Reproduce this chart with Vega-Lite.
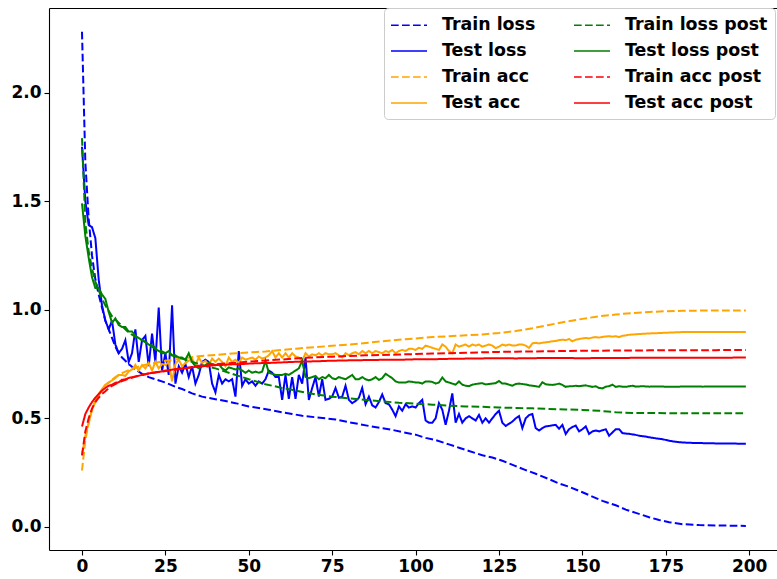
{
"$schema":"https://vega.github.io/schema/vega-lite/v6.json",
"width":728,"height":542,
"autosize":{"type":"none"},
"padding":{"left":49,"top":8,"right":0,"bottom":29},
"background":"white",
"data":{"values":[
{"s":"a","x":0,"y":2.28},{"s":"a","x":1,"y":1.68},{"s":"a","x":2,"y":1.42},{"s":"a","x":3,"y":1.25},{"s":"a","x":4,"y":1.14},{"s":"a","x":5,"y":1.07},{"s":"a","x":6,"y":1.01},{"s":"a","x":7,"y":0.95},{"s":"a","x":8,"y":0.91},{"s":"a","x":9,"y":0.87},{"s":"a","x":10,"y":0.83},{"s":"a","x":11,"y":0.8},{"s":"a","x":12,"y":0.78},{"s":"a","x":13,"y":0.765},{"s":"a","x":14,"y":0.75},{"s":"a","x":16,"y":0.725},{"s":"a","x":18,"y":0.705},{"s":"a","x":20,"y":0.69},{"s":"a","x":22,"y":0.68},{"s":"a","x":25,"y":0.665},{"s":"a","x":28,"y":0.645},{"s":"a","x":30,"y":0.635},{"s":"a","x":33,"y":0.615},{"s":"a","x":36,"y":0.6},{"s":"a","x":40,"y":0.588},{"s":"a","x":43,"y":0.58},{"s":"a","x":46,"y":0.57},{"s":"a","x":50,"y":0.555},{"s":"a","x":53,"y":0.548},{"s":"a","x":56,"y":0.54},{"s":"a","x":60,"y":0.528},{"s":"a","x":63,"y":0.52},{"s":"a","x":66,"y":0.512},{"s":"a","x":70,"y":0.505},{"s":"a","x":73,"y":0.5},{"s":"a","x":76,"y":0.495},{"s":"a","x":80,"y":0.482},{"s":"a","x":83,"y":0.474},{"s":"a","x":86,"y":0.465},{"s":"a","x":90,"y":0.455},{"s":"a","x":93,"y":0.447},{"s":"a","x":96,"y":0.437},{"s":"a","x":100,"y":0.425},{"s":"a","x":103,"y":0.41},{"s":"a","x":106,"y":0.4},{"s":"a","x":110,"y":0.38},{"s":"a","x":113,"y":0.365},{"s":"a","x":116,"y":0.35},{"s":"a","x":120,"y":0.33},{"s":"a","x":123,"y":0.32},{"s":"a","x":126,"y":0.305},{"s":"a","x":130,"y":0.28},{"s":"a","x":133,"y":0.262},{"s":"a","x":136,"y":0.245},{"s":"a","x":140,"y":0.22},{"s":"a","x":143,"y":0.2},{"s":"a","x":146,"y":0.185},{"s":"a","x":150,"y":0.16},{"s":"a","x":153,"y":0.14},{"s":"a","x":156,"y":0.12},{"s":"a","x":160,"y":0.1},{"s":"a","x":163,"y":0.08},{"s":"a","x":166,"y":0.065},{"s":"a","x":170,"y":0.045},{"s":"a","x":173,"y":0.032},{"s":"a","x":176,"y":0.022},{"s":"a","x":180,"y":0.013},{"s":"a","x":185,"y":0.009},{"s":"a","x":190,"y":0.007},{"s":"a","x":195,"y":0.006},{"s":"a","x":199,"y":0.005},
{"s":"b","x":0,"y":1.75},{"s":"b","x":1,"y":1.5},{"s":"b","x":2,"y":1.39},{"s":"b","x":3,"y":1.38},{"s":"b","x":4,"y":1.33},{"s":"b","x":5,"y":1.14},{"s":"b","x":6,"y":1.02},{"s":"b","x":7,"y":0.95},{"s":"b","x":8,"y":0.91},{"s":"b","x":9,"y":0.95},{"s":"b","x":10,"y":0.84},{"s":"b","x":11,"y":0.8},{"s":"b","x":12,"y":0.82},{"s":"b","x":13,"y":0.86},{"s":"b","x":14,"y":0.76},{"s":"b","x":15,"y":0.8},{"s":"b","x":16,"y":0.91},{"s":"b","x":17,"y":0.76},{"s":"b","x":18,"y":0.86},{"s":"b","x":19,"y":0.88},{"s":"b","x":20,"y":0.74},{"s":"b","x":21,"y":0.89},{"s":"b","x":22,"y":0.76},{"s":"b","x":23,"y":1.01},{"s":"b","x":24,"y":0.72},{"s":"b","x":25,"y":0.8},{"s":"b","x":26,"y":0.7},{"s":"b","x":27,"y":1.02},{"s":"b","x":28,"y":0.66},{"s":"b","x":29,"y":0.74},{"s":"b","x":30,"y":0.71},{"s":"b","x":31,"y":0.75},{"s":"b","x":32,"y":0.69},{"s":"b","x":33,"y":0.74},{"s":"b","x":34,"y":0.66},{"s":"b","x":35,"y":0.7},{"s":"b","x":36,"y":0.76},{"s":"b","x":37,"y":0.77},{"s":"b","x":38,"y":0.76},{"s":"b","x":39,"y":0.66},{"s":"b","x":40,"y":0.62},{"s":"b","x":41,"y":0.7},{"s":"b","x":42,"y":0.66},{"s":"b","x":43,"y":0.68},{"s":"b","x":44,"y":0.67},{"s":"b","x":45,"y":0.68},{"s":"b","x":46,"y":0.6},{"s":"b","x":47,"y":0.81},{"s":"b","x":48,"y":0.65},{"s":"b","x":49,"y":0.68},{"s":"b","x":50,"y":0.66},{"s":"b","x":51,"y":0.67},{"s":"b","x":52,"y":0.65},{"s":"b","x":53,"y":0.67},{"s":"b","x":54,"y":0.66},{"s":"b","x":55,"y":0.68},{"s":"b","x":56,"y":0.72},{"s":"b","x":57,"y":0.71},{"s":"b","x":58,"y":0.69},{"s":"b","x":59,"y":0.69},{"s":"b","x":60,"y":0.585},{"s":"b","x":61,"y":0.7},{"s":"b","x":62,"y":0.59},{"s":"b","x":63,"y":0.69},{"s":"b","x":64,"y":0.59},{"s":"b","x":65,"y":0.7},{"s":"b","x":66,"y":0.66},{"s":"b","x":67,"y":0.78},{"s":"b","x":68,"y":0.585},{"s":"b","x":69,"y":0.64},{"s":"b","x":70,"y":0.69},{"s":"b","x":71,"y":0.6},{"s":"b","x":72,"y":0.68},{"s":"b","x":73,"y":0.585},{"s":"b","x":74,"y":0.59},{"s":"b","x":75,"y":0.6},{"s":"b","x":76,"y":0.64},{"s":"b","x":77,"y":0.595},{"s":"b","x":78,"y":0.6},{"s":"b","x":79,"y":0.65},{"s":"b","x":80,"y":0.585},{"s":"b","x":81,"y":0.57},{"s":"b","x":82,"y":0.58},{"s":"b","x":83,"y":0.595},{"s":"b","x":84,"y":0.64},{"s":"b","x":85,"y":0.565},{"s":"b","x":86,"y":0.6},{"s":"b","x":87,"y":0.56},{"s":"b","x":88,"y":0.55},{"s":"b","x":89,"y":0.575},{"s":"b","x":90,"y":0.61},{"s":"b","x":91,"y":0.57},{"s":"b","x":92,"y":0.565},{"s":"b","x":93,"y":0.54},{"s":"b","x":94,"y":0.51},{"s":"b","x":95,"y":0.555},{"s":"b","x":96,"y":0.535},{"s":"b","x":97,"y":0.565},{"s":"b","x":98,"y":0.55},{"s":"b","x":99,"y":0.555},{"s":"b","x":100,"y":0.55},{"s":"b","x":101,"y":0.57},{"s":"b","x":102,"y":0.585},{"s":"b","x":103,"y":0.49},{"s":"b","x":104,"y":0.48},{"s":"b","x":105,"y":0.48},{"s":"b","x":106,"y":0.5},{"s":"b","x":107,"y":0.57},{"s":"b","x":108,"y":0.54},{"s":"b","x":109,"y":0.47},{"s":"b","x":110,"y":0.535},{"s":"b","x":111,"y":0.615},{"s":"b","x":112,"y":0.48},{"s":"b","x":113,"y":0.52},{"s":"b","x":114,"y":0.48},{"s":"b","x":115,"y":0.5},{"s":"b","x":116,"y":0.51},{"s":"b","x":117,"y":0.5},{"s":"b","x":118,"y":0.49},{"s":"b","x":119,"y":0.516},{"s":"b","x":120,"y":0.48},{"s":"b","x":121,"y":0.5},{"s":"b","x":122,"y":0.48},{"s":"b","x":123,"y":0.5},{"s":"b","x":124,"y":0.52},{"s":"b","x":125,"y":0.535},{"s":"b","x":126,"y":0.48},{"s":"b","x":127,"y":0.465},{"s":"b","x":128,"y":0.475},{"s":"b","x":129,"y":0.485},{"s":"b","x":130,"y":0.5},{"s":"b","x":131,"y":0.51},{"s":"b","x":132,"y":0.455},{"s":"b","x":133,"y":0.5},{"s":"b","x":134,"y":0.515},{"s":"b","x":135,"y":0.52},{"s":"b","x":136,"y":0.455},{"s":"b","x":137,"y":0.444},{"s":"b","x":138,"y":0.455},{"s":"b","x":139,"y":0.463},{"s":"b","x":140,"y":0.465},{"s":"b","x":141,"y":0.468},{"s":"b","x":142,"y":0.47},{"s":"b","x":143,"y":0.452},{"s":"b","x":144,"y":0.47},{"s":"b","x":145,"y":0.428},{"s":"b","x":146,"y":0.45},{"s":"b","x":147,"y":0.46},{"s":"b","x":148,"y":0.467},{"s":"b","x":149,"y":0.44},{"s":"b","x":150,"y":0.45},{"s":"b","x":151,"y":0.463},{"s":"b","x":152,"y":0.428},{"s":"b","x":153,"y":0.44},{"s":"b","x":154,"y":0.444},{"s":"b","x":155,"y":0.44},{"s":"b","x":156,"y":0.445},{"s":"b","x":157,"y":0.45},{"s":"b","x":158,"y":0.42},{"s":"b","x":159,"y":0.435},{"s":"b","x":160,"y":0.45},{"s":"b","x":161,"y":0.45},{"s":"b","x":162,"y":0.432},{"s":"b","x":163,"y":0.43},{"s":"b","x":164,"y":0.429},{"s":"b","x":165,"y":0.426},{"s":"b","x":166,"y":0.424},{"s":"b","x":167,"y":0.42},{"s":"b","x":168,"y":0.418},{"s":"b","x":169,"y":0.416},{"s":"b","x":170,"y":0.413},{"s":"b","x":172,"y":0.408},{"s":"b","x":174,"y":0.404},{"s":"b","x":176,"y":0.397},{"s":"b","x":178,"y":0.392},{"s":"b","x":180,"y":0.389},{"s":"b","x":183,"y":0.387},{"s":"b","x":186,"y":0.386},{"s":"b","x":189,"y":0.385},{"s":"b","x":192,"y":0.384},{"s":"b","x":195,"y":0.384},{"s":"b","x":199,"y":0.383},
{"s":"c","x":0,"y":0.26},{"s":"c","x":1,"y":0.4},{"s":"c","x":2,"y":0.48},{"s":"c","x":3,"y":0.54},{"s":"c","x":4,"y":0.575},{"s":"c","x":5,"y":0.605},{"s":"c","x":6,"y":0.63},{"s":"c","x":7,"y":0.652},{"s":"c","x":8,"y":0.665},{"s":"c","x":9,"y":0.678},{"s":"c","x":10,"y":0.69},{"s":"c","x":12,"y":0.708},{"s":"c","x":14,"y":0.722},{"s":"c","x":16,"y":0.733},{"s":"c","x":18,"y":0.743},{"s":"c","x":20,"y":0.75},{"s":"c","x":25,"y":0.765},{"s":"c","x":30,"y":0.776},{"s":"c","x":35,"y":0.786},{"s":"c","x":40,"y":0.792},{"s":"c","x":45,"y":0.798},{"s":"c","x":50,"y":0.803},{"s":"c","x":55,"y":0.808},{"s":"c","x":60,"y":0.815},{"s":"c","x":65,"y":0.822},{"s":"c","x":70,"y":0.828},{"s":"c","x":75,"y":0.834},{"s":"c","x":80,"y":0.84},{"s":"c","x":85,"y":0.847},{"s":"c","x":90,"y":0.855},{"s":"c","x":95,"y":0.862},{"s":"c","x":100,"y":0.868},{"s":"c","x":105,"y":0.874},{"s":"c","x":110,"y":0.878},{"s":"c","x":115,"y":0.882},{"s":"c","x":120,"y":0.886},{"s":"c","x":125,"y":0.893},{"s":"c","x":130,"y":0.902},{"s":"c","x":135,"y":0.915},{"s":"c","x":140,"y":0.93},{"s":"c","x":145,"y":0.945},{"s":"c","x":150,"y":0.958},{"s":"c","x":155,"y":0.97},{"s":"c","x":160,"y":0.978},{"s":"c","x":165,"y":0.985},{"s":"c","x":170,"y":0.99},{"s":"c","x":175,"y":0.993},{"s":"c","x":180,"y":0.995},{"s":"c","x":185,"y":0.996},{"s":"c","x":190,"y":0.997},{"s":"c","x":195,"y":0.997},{"s":"c","x":199,"y":0.997},
{"s":"d","x":0,"y":0.33},{"s":"d","x":1,"y":0.42},{"s":"d","x":2,"y":0.48},{"s":"d","x":3,"y":0.54},{"s":"d","x":4,"y":0.58},{"s":"d","x":5,"y":0.61},{"s":"d","x":6,"y":0.635},{"s":"d","x":7,"y":0.655},{"s":"d","x":8,"y":0.665},{"s":"d","x":9,"y":0.675},{"s":"d","x":10,"y":0.685},{"s":"d","x":11,"y":0.7},{"s":"d","x":12,"y":0.7},{"s":"d","x":13,"y":0.695},{"s":"d","x":14,"y":0.716},{"s":"d","x":15,"y":0.725},{"s":"d","x":16,"y":0.746},{"s":"d","x":17,"y":0.72},{"s":"d","x":18,"y":0.745},{"s":"d","x":19,"y":0.73},{"s":"d","x":20,"y":0.755},{"s":"d","x":21,"y":0.72},{"s":"d","x":22,"y":0.76},{"s":"d","x":23,"y":0.73},{"s":"d","x":24,"y":0.75},{"s":"d","x":25,"y":0.745},{"s":"d","x":26,"y":0.76},{"s":"d","x":27,"y":0.67},{"s":"d","x":28,"y":0.75},{"s":"d","x":29,"y":0.77},{"s":"d","x":30,"y":0.74},{"s":"d","x":31,"y":0.755},{"s":"d","x":32,"y":0.765},{"s":"d","x":33,"y":0.775},{"s":"d","x":34,"y":0.745},{"s":"d","x":35,"y":0.78},{"s":"d","x":36,"y":0.755},{"s":"d","x":37,"y":0.765},{"s":"d","x":38,"y":0.745},{"s":"d","x":39,"y":0.775},{"s":"d","x":40,"y":0.76},{"s":"d","x":41,"y":0.775},{"s":"d","x":42,"y":0.76},{"s":"d","x":43,"y":0.74},{"s":"d","x":44,"y":0.78},{"s":"d","x":45,"y":0.76},{"s":"d","x":46,"y":0.77},{"s":"d","x":47,"y":0.755},{"s":"d","x":48,"y":0.78},{"s":"d","x":49,"y":0.77},{"s":"d","x":50,"y":0.775},{"s":"d","x":51,"y":0.78},{"s":"d","x":52,"y":0.77},{"s":"d","x":53,"y":0.785},{"s":"d","x":54,"y":0.775},{"s":"d","x":55,"y":0.78},{"s":"d","x":56,"y":0.79},{"s":"d","x":57,"y":0.81},{"s":"d","x":58,"y":0.78},{"s":"d","x":59,"y":0.8},{"s":"d","x":60,"y":0.78},{"s":"d","x":61,"y":0.8},{"s":"d","x":62,"y":0.78},{"s":"d","x":63,"y":0.8},{"s":"d","x":64,"y":0.785},{"s":"d","x":65,"y":0.78},{"s":"d","x":66,"y":0.765},{"s":"d","x":67,"y":0.8},{"s":"d","x":68,"y":0.785},{"s":"d","x":69,"y":0.795},{"s":"d","x":70,"y":0.79},{"s":"d","x":71,"y":0.8},{"s":"d","x":72,"y":0.79},{"s":"d","x":73,"y":0.8},{"s":"d","x":74,"y":0.795},{"s":"d","x":75,"y":0.795},{"s":"d","x":76,"y":0.8},{"s":"d","x":77,"y":0.79},{"s":"d","x":78,"y":0.78},{"s":"d","x":79,"y":0.8},{"s":"d","x":80,"y":0.79},{"s":"d","x":81,"y":0.8},{"s":"d","x":82,"y":0.805},{"s":"d","x":83,"y":0.795},{"s":"d","x":84,"y":0.81},{"s":"d","x":85,"y":0.8},{"s":"d","x":86,"y":0.81},{"s":"d","x":87,"y":0.8},{"s":"d","x":88,"y":0.81},{"s":"d","x":89,"y":0.805},{"s":"d","x":90,"y":0.8},{"s":"d","x":91,"y":0.81},{"s":"d","x":92,"y":0.805},{"s":"d","x":93,"y":0.815},{"s":"d","x":94,"y":0.8},{"s":"d","x":95,"y":0.81},{"s":"d","x":96,"y":0.815},{"s":"d","x":97,"y":0.81},{"s":"d","x":98,"y":0.82},{"s":"d","x":99,"y":0.82},{"s":"d","x":100,"y":0.815},{"s":"d","x":101,"y":0.825},{"s":"d","x":102,"y":0.82},{"s":"d","x":103,"y":0.835},{"s":"d","x":104,"y":0.83},{"s":"d","x":105,"y":0.825},{"s":"d","x":106,"y":0.82},{"s":"d","x":107,"y":0.815},{"s":"d","x":108,"y":0.84},{"s":"d","x":109,"y":0.83},{"s":"d","x":110,"y":0.81},{"s":"d","x":111,"y":0.8},{"s":"d","x":112,"y":0.84},{"s":"d","x":113,"y":0.83},{"s":"d","x":114,"y":0.835},{"s":"d","x":115,"y":0.84},{"s":"d","x":116,"y":0.83},{"s":"d","x":117,"y":0.84},{"s":"d","x":118,"y":0.835},{"s":"d","x":119,"y":0.84},{"s":"d","x":120,"y":0.83},{"s":"d","x":121,"y":0.835},{"s":"d","x":122,"y":0.84},{"s":"d","x":123,"y":0.835},{"s":"d","x":124,"y":0.823},{"s":"d","x":125,"y":0.83},{"s":"d","x":126,"y":0.84},{"s":"d","x":127,"y":0.835},{"s":"d","x":128,"y":0.84},{"s":"d","x":129,"y":0.835},{"s":"d","x":130,"y":0.835},{"s":"d","x":131,"y":0.84},{"s":"d","x":132,"y":0.84},{"s":"d","x":133,"y":0.835},{"s":"d","x":134,"y":0.824},{"s":"d","x":135,"y":0.845},{"s":"d","x":136,"y":0.848},{"s":"d","x":137,"y":0.845},{"s":"d","x":138,"y":0.848},{"s":"d","x":139,"y":0.85},{"s":"d","x":140,"y":0.852},{"s":"d","x":141,"y":0.855},{"s":"d","x":142,"y":0.856},{"s":"d","x":143,"y":0.86},{"s":"d","x":144,"y":0.862},{"s":"d","x":145,"y":0.86},{"s":"d","x":146,"y":0.865},{"s":"d","x":147,"y":0.855},{"s":"d","x":148,"y":0.862},{"s":"d","x":149,"y":0.865},{"s":"d","x":150,"y":0.868},{"s":"d","x":151,"y":0.87},{"s":"d","x":152,"y":0.868},{"s":"d","x":153,"y":0.872},{"s":"d","x":154,"y":0.874},{"s":"d","x":155,"y":0.872},{"s":"d","x":156,"y":0.875},{"s":"d","x":157,"y":0.877},{"s":"d","x":158,"y":0.878},{"s":"d","x":159,"y":0.876},{"s":"d","x":160,"y":0.878},{"s":"d","x":161,"y":0.874},{"s":"d","x":162,"y":0.88},{"s":"d","x":163,"y":0.882},{"s":"d","x":164,"y":0.885},{"s":"d","x":165,"y":0.886},{"s":"d","x":166,"y":0.887},{"s":"d","x":167,"y":0.888},{"s":"d","x":168,"y":0.889},{"s":"d","x":170,"y":0.891},{"s":"d","x":172,"y":0.892},{"s":"d","x":175,"y":0.894},{"s":"d","x":178,"y":0.896},{"s":"d","x":181,"y":0.898},{"s":"d","x":185,"y":0.897},{"s":"d","x":190,"y":0.897},{"s":"d","x":195,"y":0.898},{"s":"d","x":199,"y":0.897},
{"s":"e","x":0,"y":1.79},{"s":"e","x":1,"y":1.4},{"s":"e","x":2,"y":1.27},{"s":"e","x":3,"y":1.19},{"s":"e","x":4,"y":1.13},{"s":"e","x":5,"y":1.09},{"s":"e","x":6,"y":1.05},{"s":"e","x":7,"y":1.02},{"s":"e","x":8,"y":0.995},{"s":"e","x":9,"y":0.97},{"s":"e","x":10,"y":0.955},{"s":"e","x":12,"y":0.925},{"s":"e","x":14,"y":0.895},{"s":"e","x":16,"y":0.875},{"s":"e","x":18,"y":0.86},{"s":"e","x":20,"y":0.845},{"s":"e","x":22,"y":0.825},{"s":"e","x":25,"y":0.8},{"s":"e","x":28,"y":0.785},{"s":"e","x":30,"y":0.775},{"s":"e","x":33,"y":0.76},{"s":"e","x":36,"y":0.745},{"s":"e","x":40,"y":0.73},{"s":"e","x":45,"y":0.705},{"s":"e","x":50,"y":0.68},{"s":"e","x":55,"y":0.657},{"s":"e","x":60,"y":0.64},{"s":"e","x":65,"y":0.625},{"s":"e","x":70,"y":0.61},{"s":"e","x":75,"y":0.6},{"s":"e","x":80,"y":0.592},{"s":"e","x":85,"y":0.585},{"s":"e","x":90,"y":0.578},{"s":"e","x":95,"y":0.572},{"s":"e","x":100,"y":0.568},{"s":"e","x":105,"y":0.563},{"s":"e","x":110,"y":0.558},{"s":"e","x":115,"y":0.555},{"s":"e","x":120,"y":0.553},{"s":"e","x":125,"y":0.55},{"s":"e","x":130,"y":0.548},{"s":"e","x":135,"y":0.546},{"s":"e","x":140,"y":0.543},{"s":"e","x":145,"y":0.541},{"s":"e","x":150,"y":0.539},{"s":"e","x":155,"y":0.535},{"s":"e","x":160,"y":0.528},{"s":"e","x":165,"y":0.525},{"s":"e","x":170,"y":0.525},{"s":"e","x":175,"y":0.524},{"s":"e","x":180,"y":0.523},{"s":"e","x":185,"y":0.524},{"s":"e","x":190,"y":0.523},{"s":"e","x":195,"y":0.524},{"s":"e","x":199,"y":0.524},
{"s":"f","x":0,"y":1.49},{"s":"f","x":1,"y":1.34},{"s":"f","x":2,"y":1.24},{"s":"f","x":3,"y":1.15},{"s":"f","x":4,"y":1.1},{"s":"f","x":5,"y":1.1},{"s":"f","x":6,"y":1.07},{"s":"f","x":7,"y":1.05},{"s":"f","x":8,"y":0.99},{"s":"f","x":9,"y":0.94},{"s":"f","x":10,"y":0.96},{"s":"f","x":11,"y":0.93},{"s":"f","x":12,"y":0.92},{"s":"f","x":13,"y":0.92},{"s":"f","x":14,"y":0.9},{"s":"f","x":15,"y":0.9},{"s":"f","x":16,"y":0.88},{"s":"f","x":17,"y":0.87},{"s":"f","x":18,"y":0.86},{"s":"f","x":19,"y":0.85},{"s":"f","x":20,"y":0.84},{"s":"f","x":21,"y":0.83},{"s":"f","x":22,"y":0.82},{"s":"f","x":23,"y":0.81},{"s":"f","x":24,"y":0.8},{"s":"f","x":25,"y":0.8},{"s":"f","x":26,"y":0.81},{"s":"f","x":27,"y":0.79},{"s":"f","x":28,"y":0.79},{"s":"f","x":29,"y":0.78},{"s":"f","x":30,"y":0.78},{"s":"f","x":31,"y":0.77},{"s":"f","x":32,"y":0.8},{"s":"f","x":33,"y":0.76},{"s":"f","x":34,"y":0.74},{"s":"f","x":35,"y":0.73},{"s":"f","x":36,"y":0.74},{"s":"f","x":37,"y":0.745},{"s":"f","x":38,"y":0.755},{"s":"f","x":39,"y":0.75},{"s":"f","x":40,"y":0.745},{"s":"f","x":41,"y":0.75},{"s":"f","x":42,"y":0.73},{"s":"f","x":43,"y":0.72},{"s":"f","x":44,"y":0.735},{"s":"f","x":45,"y":0.73},{"s":"f","x":46,"y":0.725},{"s":"f","x":47,"y":0.73},{"s":"f","x":48,"y":0.72},{"s":"f","x":49,"y":0.71},{"s":"f","x":50,"y":0.72},{"s":"f","x":51,"y":0.71},{"s":"f","x":52,"y":0.715},{"s":"f","x":53,"y":0.71},{"s":"f","x":54,"y":0.715},{"s":"f","x":55,"y":0.765},{"s":"f","x":56,"y":0.71},{"s":"f","x":57,"y":0.705},{"s":"f","x":58,"y":0.7},{"s":"f","x":59,"y":0.7},{"s":"f","x":60,"y":0.7},{"s":"f","x":61,"y":0.705},{"s":"f","x":62,"y":0.7},{"s":"f","x":63,"y":0.71},{"s":"f","x":64,"y":0.72},{"s":"f","x":65,"y":0.73},{"s":"f","x":66,"y":0.765},{"s":"f","x":67,"y":0.69},{"s":"f","x":68,"y":0.685},{"s":"f","x":69,"y":0.69},{"s":"f","x":70,"y":0.695},{"s":"f","x":71,"y":0.68},{"s":"f","x":72,"y":0.69},{"s":"f","x":73,"y":0.685},{"s":"f","x":74,"y":0.7},{"s":"f","x":75,"y":0.685},{"s":"f","x":76,"y":0.68},{"s":"f","x":77,"y":0.69},{"s":"f","x":78,"y":0.685},{"s":"f","x":79,"y":0.68},{"s":"f","x":80,"y":0.69},{"s":"f","x":81,"y":0.7},{"s":"f","x":82,"y":0.68},{"s":"f","x":83,"y":0.68},{"s":"f","x":84,"y":0.69},{"s":"f","x":85,"y":0.68},{"s":"f","x":86,"y":0.675},{"s":"f","x":87,"y":0.68},{"s":"f","x":88,"y":0.69},{"s":"f","x":89,"y":0.677},{"s":"f","x":90,"y":0.685},{"s":"f","x":91,"y":0.705},{"s":"f","x":92,"y":0.695},{"s":"f","x":93,"y":0.685},{"s":"f","x":94,"y":0.67},{"s":"f","x":95,"y":0.665},{"s":"f","x":96,"y":0.665},{"s":"f","x":97,"y":0.665},{"s":"f","x":98,"y":0.67},{"s":"f","x":99,"y":0.668},{"s":"f","x":100,"y":0.665},{"s":"f","x":101,"y":0.665},{"s":"f","x":102,"y":0.66},{"s":"f","x":103,"y":0.67},{"s":"f","x":104,"y":0.67},{"s":"f","x":105,"y":0.668},{"s":"f","x":106,"y":0.66},{"s":"f","x":107,"y":0.665},{"s":"f","x":108,"y":0.688},{"s":"f","x":109,"y":0.67},{"s":"f","x":110,"y":0.665},{"s":"f","x":111,"y":0.66},{"s":"f","x":112,"y":0.655},{"s":"f","x":113,"y":0.67},{"s":"f","x":114,"y":0.655},{"s":"f","x":115,"y":0.65},{"s":"f","x":116,"y":0.648},{"s":"f","x":117,"y":0.655},{"s":"f","x":118,"y":0.658},{"s":"f","x":119,"y":0.66},{"s":"f","x":120,"y":0.662},{"s":"f","x":121,"y":0.656},{"s":"f","x":122,"y":0.658},{"s":"f","x":123,"y":0.66},{"s":"f","x":124,"y":0.662},{"s":"f","x":125,"y":0.672},{"s":"f","x":126,"y":0.66},{"s":"f","x":127,"y":0.66},{"s":"f","x":128,"y":0.655},{"s":"f","x":129,"y":0.65},{"s":"f","x":130,"y":0.658},{"s":"f","x":131,"y":0.66},{"s":"f","x":132,"y":0.658},{"s":"f","x":133,"y":0.656},{"s":"f","x":134,"y":0.652},{"s":"f","x":135,"y":0.65},{"s":"f","x":136,"y":0.648},{"s":"f","x":137,"y":0.645},{"s":"f","x":138,"y":0.666},{"s":"f","x":139,"y":0.657},{"s":"f","x":140,"y":0.655},{"s":"f","x":141,"y":0.654},{"s":"f","x":142,"y":0.656},{"s":"f","x":143,"y":0.66},{"s":"f","x":144,"y":0.654},{"s":"f","x":145,"y":0.645},{"s":"f","x":146,"y":0.648},{"s":"f","x":147,"y":0.648},{"s":"f","x":148,"y":0.65},{"s":"f","x":149,"y":0.648},{"s":"f","x":150,"y":0.65},{"s":"f","x":151,"y":0.652},{"s":"f","x":152,"y":0.648},{"s":"f","x":153,"y":0.645},{"s":"f","x":154,"y":0.648},{"s":"f","x":155,"y":0.64},{"s":"f","x":156,"y":0.638},{"s":"f","x":157,"y":0.646},{"s":"f","x":158,"y":0.648},{"s":"f","x":159,"y":0.655},{"s":"f","x":160,"y":0.645},{"s":"f","x":161,"y":0.648},{"s":"f","x":162,"y":0.646},{"s":"f","x":163,"y":0.645},{"s":"f","x":164,"y":0.648},{"s":"f","x":165,"y":0.65},{"s":"f","x":166,"y":0.646},{"s":"f","x":168,"y":0.648},{"s":"f","x":170,"y":0.646},{"s":"f","x":173,"y":0.647},{"s":"f","x":176,"y":0.645},{"s":"f","x":179,"y":0.646},{"s":"f","x":182,"y":0.647},{"s":"f","x":186,"y":0.646},{"s":"f","x":190,"y":0.647},{"s":"f","x":195,"y":0.647},{"s":"f","x":199,"y":0.647},
{"s":"g","x":0,"y":0.33},{"s":"g","x":1,"y":0.44},{"s":"g","x":2,"y":0.5},{"s":"g","x":3,"y":0.545},{"s":"g","x":4,"y":0.575},{"s":"g","x":5,"y":0.595},{"s":"g","x":6,"y":0.612},{"s":"g","x":7,"y":0.625},{"s":"g","x":8,"y":0.638},{"s":"g","x":9,"y":0.65},{"s":"g","x":10,"y":0.658},{"s":"g","x":12,"y":0.672},{"s":"g","x":14,"y":0.683},{"s":"g","x":16,"y":0.692},{"s":"g","x":18,"y":0.7},{"s":"g","x":20,"y":0.706},{"s":"g","x":23,"y":0.713},{"s":"g","x":26,"y":0.72},{"s":"g","x":30,"y":0.728},{"s":"g","x":35,"y":0.742},{"s":"g","x":40,"y":0.749},{"s":"g","x":45,"y":0.755},{"s":"g","x":50,"y":0.761},{"s":"g","x":55,"y":0.766},{"s":"g","x":60,"y":0.771},{"s":"g","x":65,"y":0.777},{"s":"g","x":70,"y":0.781},{"s":"g","x":75,"y":0.784},{"s":"g","x":80,"y":0.787},{"s":"g","x":85,"y":0.79},{"s":"g","x":90,"y":0.792},{"s":"g","x":95,"y":0.794},{"s":"g","x":100,"y":0.796},{"s":"g","x":105,"y":0.798},{"s":"g","x":110,"y":0.8},{"s":"g","x":115,"y":0.802},{"s":"g","x":120,"y":0.804},{"s":"g","x":125,"y":0.806},{"s":"g","x":130,"y":0.807},{"s":"g","x":135,"y":0.808},{"s":"g","x":140,"y":0.809},{"s":"g","x":145,"y":0.81},{"s":"g","x":150,"y":0.811},{"s":"g","x":160,"y":0.812},{"s":"g","x":170,"y":0.813},{"s":"g","x":180,"y":0.814},{"s":"g","x":190,"y":0.814},{"s":"g","x":199,"y":0.815},
{"s":"h","x":0,"y":0.462},{"s":"h","x":1,"y":0.52},{"s":"h","x":2,"y":0.55},{"s":"h","x":3,"y":0.575},{"s":"h","x":4,"y":0.595},{"s":"h","x":5,"y":0.612},{"s":"h","x":6,"y":0.628},{"s":"h","x":7,"y":0.64},{"s":"h","x":8,"y":0.65},{"s":"h","x":9,"y":0.655},{"s":"h","x":10,"y":0.664},{"s":"h","x":11,"y":0.666},{"s":"h","x":12,"y":0.678},{"s":"h","x":13,"y":0.679},{"s":"h","x":14,"y":0.686},{"s":"h","x":15,"y":0.689},{"s":"h","x":16,"y":0.693},{"s":"h","x":17,"y":0.696},{"s":"h","x":18,"y":0.7},{"s":"h","x":19,"y":0.703},{"s":"h","x":20,"y":0.707},{"s":"h","x":21,"y":0.709},{"s":"h","x":22,"y":0.712},{"s":"h","x":23,"y":0.714},{"s":"h","x":24,"y":0.716},{"s":"h","x":25,"y":0.72},{"s":"h","x":26,"y":0.722},{"s":"h","x":27,"y":0.724},{"s":"h","x":28,"y":0.727},{"s":"h","x":29,"y":0.728},{"s":"h","x":30,"y":0.73},{"s":"h","x":32,"y":0.733},{"s":"h","x":34,"y":0.737},{"s":"h","x":36,"y":0.74},{"s":"h","x":38,"y":0.742},{"s":"h","x":40,"y":0.745},{"s":"h","x":42,"y":0.746},{"s":"h","x":44,"y":0.748},{"s":"h","x":46,"y":0.749},{"s":"h","x":48,"y":0.75},{"s":"h","x":50,"y":0.752},{"s":"h","x":53,"y":0.754},{"s":"h","x":56,"y":0.755},{"s":"h","x":59,"y":0.757},{"s":"h","x":62,"y":0.759},{"s":"h","x":65,"y":0.761},{"s":"h","x":68,"y":0.762},{"s":"h","x":71,"y":0.763},{"s":"h","x":74,"y":0.765},{"s":"h","x":77,"y":0.766},{"s":"h","x":80,"y":0.767},{"s":"h","x":84,"y":0.768},{"s":"h","x":88,"y":0.769},{"s":"h","x":92,"y":0.77},{"s":"h","x":96,"y":0.77},{"s":"h","x":100,"y":0.772},{"s":"h","x":105,"y":0.772},{"s":"h","x":110,"y":0.774},{"s":"h","x":115,"y":0.775},{"s":"h","x":120,"y":0.776},{"s":"h","x":125,"y":0.777},{"s":"h","x":130,"y":0.776},{"s":"h","x":135,"y":0.777},{"s":"h","x":140,"y":0.778},{"s":"h","x":150,"y":0.777},{"s":"h","x":160,"y":0.778},{"s":"h","x":170,"y":0.779},{"s":"h","x":180,"y":0.779},{"s":"h","x":190,"y":0.779},{"s":"h","x":199,"y":0.78}
]},
"layer":[
{"mark":{"type":"line","strokeWidth":2,"clip":true},
"encoding":{
"x":{"field":"x","type":"quantitative","scale":{"domain":[-9.89,208.33],"nice":false,"zero":false},"axis":{"values":[0,25,50,75,100,125,150,175,200],"labelFlush":false,"labelOverlap":false,"domain":true}},
"y":{"field":"y","type":"quantitative","scale":{"domain":[-0.106,2.389],"nice":false,"zero":false},"axis":{"values":[0,0.5,1,1.5,2],"format":".1f","labelFlush":false,"labelOverlap":false,"domain":true}},
"color":{"field":"s","type":"nominal","scale":{"domain":["a","b","c","d","e","f","g","h"],"range":["#0000ff","#0000ff","#ffa500","#ffa500","#008000","#008000","#ff0000","#ff0000"]},"legend":{"title":null,"labelExpr":"{'a':'Train loss','b':'Test loss','c':'Train acc','d':'Test acc','e':'Train loss post','f':'Test loss post','g':'Train acc post','h':'Test acc post'}[datum.label]"}},
"strokeDash":{"field":"s","type":"nominal","scale":{"domain":["a","b","c","d","e","f","g","h"],"range":[[7.7,3.3],[1,0],[7.7,3.3],[1,0],[7.7,3.3],[1,0],[7.7,3.3],[1,0]]},"legend":{"title":null,"labelExpr":"{'a':'Train loss','b':'Test loss','c':'Train acc','d':'Test acc','e':'Train loss post','f':'Test loss post','g':'Train acc post','h':'Test acc post'}[datum.label]"}},
"detail":{"field":"s","type":"nominal"}
}},
{"mark":{"type":"point","opacity":0},
"encoding":{
"x":{"field":"x","type":"quantitative","axis":{"orient":"top","labels":false,"ticks":false,"domain":true}},
"y":{"field":"y","type":"quantitative"}
}}
],
"resolve":{"axis":{"x":"independent"}},
"config":{
"view":{"stroke":null},
"axis":{"labelFont":"DejaVu Sans","labelFontSize":17,"labelFontWeight":"bold","labelColor":"#000000","tickColor":"#000000","tickSize":5,"tickWidth":1.1,"domainColor":"#000000","domainWidth":1.1,"grid":false,"title":null,"labelPadding":3},
"legend":{"orient":"none","legendX":335,"legendY":0,"direction":"vertical","columns":2,"symbolType":"M-2,0H2","symbolSize":324,"symbolOffset":8,"symbolStrokeWidth":1.5,"labelFont":"DejaVu Sans","labelFontSize":17.4,"labelFontWeight":"bold","labelColor":"#000000","labelOffset":23,"rowPadding":7,"columnPadding":35,"padding":7,"fillColor":"#ffffff","strokeColor":"#cccccc","cornerRadius":4,"labelLimit":300}
}
}
